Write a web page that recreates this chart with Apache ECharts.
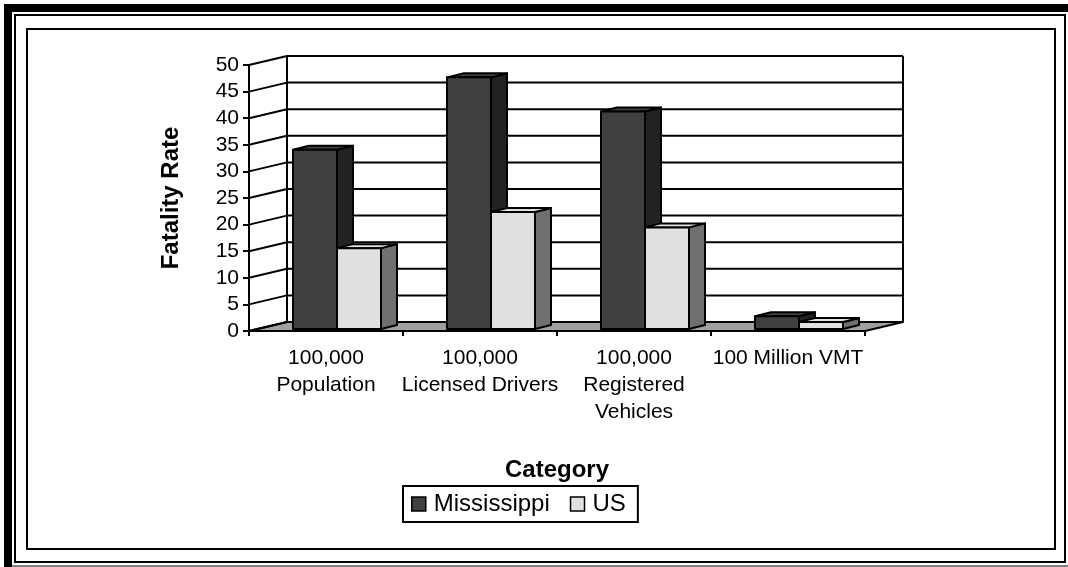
<!DOCTYPE html>
<html>
<head>
<meta charset="utf-8">
<script src="https://cdn.jsdelivr.net/npm/echarts@6/dist/echarts.min.js"></script>
<style>
  html, body { margin: 0; padding: 0; background: #fff; }
  #chart { width: 1068px; height: 567px; }
</style>
</head>
<body>
<div id="chart"></div>
<script>
// Fatality rates by exposure measure
const categories = ['100,000\nPopulation', '100,000\nLicensed Drivers', '100,000\nRegistered\nVehicles', '100 Million VMT'];
const mississippi = [33.7, 47.3, 40.9, 2.4];
const us = [15.2, 22.0, 19.1, 1.3];
const yTicks = [0, 5, 10, 15, 20, 25, 30, 35, 40, 45, 50];

const FONT = '"Liberation Sans", Arial, Helvetica, sans-serif';

// pseudo-3D geometry (pixels)
const WALL_DX = 38, WALL_DY = -9;   // depth of floor / back wall
const BAR_DX = 16, BAR_DY = -4;     // depth of each column
const BAR_W = 44;                   // width of one column face
const BAR_SHIFT = 11;               // pair offset from category centre
const BAR_LIFT = -2;                // columns sit slightly behind the front edge

const LINE = { stroke: '#000', lineWidth: 2, lineJoin: 'round' };

function barRenderer(colors, slot) {
  return function (params, api) {
    const base = api.coord([api.value(0), 0]);
    const top = api.coord([api.value(0), api.value(1)]);
    const x0 = base[0] + BAR_SHIFT - BAR_W + slot * BAR_W;
    const x1 = x0 + BAR_W;
    const yb = base[1] + BAR_LIFT;
    const yt = top[1] + BAR_LIFT;
    return {
      type: 'group',
      children: [
        { type: 'polygon',
          shape: { points: [[x1, yt], [x1 + BAR_DX, yt + BAR_DY], [x1 + BAR_DX, yb + BAR_DY], [x1, yb]] },
          style: Object.assign({ fill: colors.side }, LINE) },
        { type: 'polygon',
          shape: { points: [[x0, yt], [x0 + BAR_DX, yt + BAR_DY], [x1 + BAR_DX, yt + BAR_DY], [x1, yt]] },
          style: Object.assign({ fill: colors.top }, LINE) },
        { type: 'rect',
          shape: { x: x0, y: yt, width: BAR_W, height: yb - yt },
          style: Object.assign({ fill: colors.front }, LINE) }
      ]
    };
  };
}

// floor, back wall gridlines and the depth lines from the value axis
function frameRenderer(params, api) {
  const cs = params.coordSys;
  const L = cs.x, R = cs.x + cs.width;
  const y0 = api.coord([0, yTicks[0]])[1];
  const yTop = api.coord([0, yTicks[yTicks.length - 1]])[1];
  const children = [];
  children.push({
    type: 'polygon',
    shape: { points: [[L, y0], [R, y0], [R + WALL_DX, y0 + WALL_DY], [L + WALL_DX, y0 + WALL_DY]] },
    style: Object.assign({ fill: '#a0a0a0' }, LINE)
  });
  yTicks.forEach(function (v) {
    const y = api.coord([0, v])[1];
    if (v !== yTicks[0]) {
      children.push({ type: 'line',
        shape: { x1: L + WALL_DX, y1: y + WALL_DY, x2: R + WALL_DX, y2: y + WALL_DY },
        style: LINE });
    }
    children.push({ type: 'line',
      shape: { x1: L, y1: y, x2: L + WALL_DX, y2: y + WALL_DY },
      style: LINE });
  });
  [L + WALL_DX, R + WALL_DX].forEach(function (x) {
    children.push({ type: 'line',
      shape: { x1: x, y1: y0 + WALL_DY, x2: x, y2: yTop + WALL_DY },
      style: LINE });
  });
  return { type: 'group', children: children };
}

const chart = echarts.init(document.getElementById('chart'), null, { renderer: 'canvas' });

chart.setOption({
  animation: false,
  backgroundColor: '#fff',
  textStyle: { fontFamily: FONT },
  graphic: [
    { type: 'rect', shape: { x: 4, y: 4, width: 1064, height: 8 }, style: { fill: '#000' }, silent: true },
    { type: 'rect', shape: { x: 4, y: 4, width: 8, height: 563 }, style: { fill: '#000' }, silent: true },
    { type: 'rect', shape: { x: 15, y: 15, width: 1050, height: 547 }, style: { fill: 'none', stroke: '#000', lineWidth: 2 }, silent: true },
    { type: 'line', shape: { x1: 12, y1: 566, x2: 1068, y2: 566 }, style: { stroke: '#000', lineWidth: 1 }, silent: true },
    { type: 'rect', shape: { x: 27, y: 29, width: 1028, height: 520 }, style: { fill: 'none', stroke: '#000', lineWidth: 2 }, silent: true }
  ],
  grid: { left: 249, right: 203, top: 65, bottom: 236, containLabel: false },
  legend: {
    left: 403, top: 486,
    orient: 'horizontal',
    itemWidth: 14, itemHeight: 14, itemGap: 20,
    padding: [6, 12, 6, 8],
    borderColor: '#000', borderWidth: 2,
    textStyle: { fontSize: 24, color: '#000', fontFamily: FONT, padding: [0, 0, 0, 3] },
    data: [
      { name: 'Mississippi', icon: 'rect', itemStyle: { color: '#404040', borderColor: '#000', borderWidth: 1.5 } },
      { name: 'US', icon: 'rect', itemStyle: { color: '#e0e0e0', borderColor: '#000', borderWidth: 1.5 } }
    ]
  },
  xAxis: {
    type: 'category',
    data: categories,
    boundaryGap: true,
    name: 'Category',
    nameLocation: 'middle',
    nameGap: 127,
    nameTextStyle: { fontSize: 24, fontWeight: 'bold', color: '#000', fontFamily: FONT },
    axisLine: { show: true, lineStyle: { color: '#000', width: 2 } },
    axisTick: { show: true, length: 5, lineStyle: { color: '#000', width: 2 } },
    axisLabel: { fontSize: 21, lineHeight: 27, color: '#000', margin: 14, interval: 0, fontFamily: FONT },
    splitLine: { show: false }
  },
  yAxis: {
    type: 'value',
    min: 0, max: 50, interval: 5,
    name: 'Fatality Rate',
    nameLocation: 'middle',
    nameRotate: 90,
    nameGap: 66,
    nameTextStyle: { fontSize: 24, fontWeight: 'bold', color: '#000', fontFamily: FONT },
    axisLine: { show: true, lineStyle: { color: '#000', width: 2 } },
    axisTick: { show: true, length: 6, lineStyle: { color: '#000', width: 2 } },
    axisLabel: { fontSize: 21, color: '#000', margin: 10, fontFamily: FONT },
    splitLine: { show: false }
  },
  series: [
    {
      name: 'frame', type: 'custom', silent: true, clip: false, z: 1,
      renderItem: frameRenderer,
      data: [[0, 0]]
    },
    {
      name: 'Mississippi', type: 'custom', clip: false, z: 3,
      itemStyle: { color: '#404040' },
      renderItem: barRenderer({ front: '#404040', top: '#404040', side: '#222222' }, 0),
      data: mississippi.map(function (v, i) { return [i, v]; })
    },
    {
      name: 'US', type: 'custom', clip: false, z: 4,
      itemStyle: { color: '#e0e0e0' },
      renderItem: barRenderer({ front: '#e0e0e0', top: '#e0e0e0', side: '#707070' }, 1),
      data: us.map(function (v, i) { return [i, v]; })
    }
  ]
});
</script>
</body>
</html>
